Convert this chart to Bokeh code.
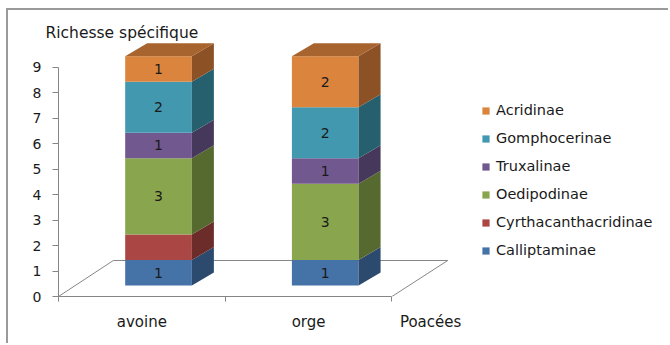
from bokeh.plotting import figure
from bokeh.models import (Range1d, FixedTicker, Legend, LegendItem,
                          ColumnDataSource, LinearAxis)
from bokeh.core.properties import value
from bokeh.embed import file_html
from bokeh.resources import INLINE

# ---------------- data ----------------
categories = ["avoine", "orge"]
series = ["Calliptaminae", "Cyrthacanthacridinae", "Oedipodinae",
          "Truxalinae", "Gomphocerinae", "Acridinae"]
calliptaminae = [1, 1]
cyrthacanthacridinae = [1, 0]
oedipodinae = [3, 3]
truxalinae = [1, 1]
gomphocerinae = [2, 2]
acridinae = [1, 2]
values = [calliptaminae, cyrthacanthacridinae, oedipodinae,
          truxalinae, gomphocerinae, acridinae]
# segment labels not displayed in the reference
hidden_labels = [("avoine", "Cyrthacanthacridinae")]
y_ticks = [0, 1, 2, 3, 4, 5, 6, 7, 8, 9]
y_title = "Richesse spécifique"
x_title = "Poacées"

# ---------------- styles ----------------
front_colors = ["#4572A7", "#AA4643", "#89A54E", "#71588F", "#4198AF", "#DB843D"]
side_colors = ["#2C4A6E", "#6B2C2A", "#566A30", "#46385A", "#26606E", "#8C5226"]
top_colors = ["#36598A", "#893836", "#6E853D", "#5A4672", "#347A8C", "#A8642E"]
FONT = "DejaVu Sans"
TXT = "#1a1a1a"
GRID = "#868686"

# 3D geometry (data units)
X0, W = 0.40, 0.40       # front face offset / width inside a category slot
DX, DY = 0.132, 0.51     # depth offset of the side/top faces
LIFT = 0.43              # front face lifted above floor front edge
FLOOR_BACK_Y = 1.413
FLOOR_BACK_L, FLOOR_BACK_R = 0.329, 2.335
X_TITLE_POS = 2.232

p = figure(width=662, height=335, output_backend="svg", toolbar_location=None,
           x_range=Range1d(0, 3.671), y_range=Range1d(0, 9.969),
           min_border_left=50, min_border_bottom=49, min_border_top=32,
           min_border_right=0, x_axis_type=None, y_axis_type=None)
p.styles = {"margin-left": "6px", "margin-top": "8px",
            "border-left": "2px solid #9a9a9a",
            "border-top": "2px solid #9a9a9a"}
p.outline_line_color = None
p.grid.visible = False
p.background_fill_color = "white"
p.border_fill_color = "white"

# title
p.title.text = y_title
p.title.align = "left"
p.title.offset = -13
p.title.standoff = 2
p.title.text_font = FONT
p.title.text_font_size = "15.5px"
p.title.text_font_style = "normal"
p.title.text_color = TXT

# axes
yax = LinearAxis(ticker=FixedTicker(ticks=y_ticks, minor_ticks=[]), bounds=(0, 9))
yax.axis_line_color = GRID
yax.major_tick_line_color = GRID
yax.major_tick_out = 6
yax.major_tick_in = 0
yax.minor_tick_line_color = None
yax.major_label_text_font = FONT
yax.major_label_text_font_size = "14px"
yax.major_label_text_color = TXT
yax.major_label_standoff = 11
p.add_layout(yax, "left")

xax = LinearAxis(ticker=FixedTicker(ticks=[0.5, 1.5, X_TITLE_POS],
                                    minor_ticks=[0, 1, 2]),
                 bounds=(0, 2))
xax.axis_line_color = GRID
xax.major_tick_line_color = None
xax.major_tick_out = 0
xax.major_tick_in = 0
xax.minor_tick_line_color = GRID
xax.minor_tick_out = 5
xax.minor_tick_in = 0
xax.major_label_overrides = {0.5: categories[0], 1.5: categories[1],
                             X_TITLE_POS: x_title}
xax.major_label_text_font = FONT
xax.major_label_text_font_size = "15px"
xax.major_label_text_color = TXT
xax.major_label_standoff = 11
p.add_layout(xax, "below")

# floor outline
p.line([0, FLOOR_BACK_L, FLOOR_BACK_R, 2], [0, FLOOR_BACK_Y, FLOOR_BACK_Y, 0],
       line_color=GRID, line_width=1)

# bars
legend_items = []
lab_x, lab_y, lab_t = [], [], []
for si, name in enumerate(series):
    left, right, bottom, top = [], [], [], []
    sxs, sys_ = [], []
    for ci, cat in enumerate(categories):
        base = sum(values[k][ci] for k in range(si))
        v = values[si][ci]
        if v <= 0:
            continue
        x0 = ci + X0
        x1 = x0 + W
        y0 = base + LIFT
        y1 = base + v + LIFT
        left.append(x0); right.append(x1); bottom.append(y0); top.append(y1)
        sxs.append([x1, x1 + DX, x1 + DX, x1])
        sys_.append([y0, y0 + DY, y1 + DY, y1])
        if (cat, name) not in hidden_labels:
            lab_x.append((x0 + x1) / 2)
            lab_y.append((y0 + y1) / 2)
            lab_t.append(str(v))
    r = p.quad(left=left, right=right, bottom=bottom, top=top,
               fill_color=front_colors[si], line_color=None)
    p.patches(sxs, sys_, fill_color=side_colors[si], line_color=None)
    legend_items.append(LegendItem(label=name, renderers=[r]))

# top faces of the stacks
txs, tys, top_fill = [], [], []
for ci, cat in enumerate(categories):
    total = sum(values[k][ci] for k in range(len(series)))
    x0 = ci + X0
    x1 = x0 + W
    y1 = total + LIFT
    txs.append([x0, x0 + DX, x1 + DX, x1])
    tys.append([y1, y1 + DY, y1 + DY, y1])
    k = max(i for i in range(len(series)) if values[i][ci] > 0)
    top_fill.append(top_colors[k])
p.patches(txs, tys, fill_color=top_fill, line_color=None)

src = ColumnDataSource(dict(x=lab_x, y=lab_y, t=lab_t))
p.text(x="x", y="y", text="t", source=src, text_align="center",
       text_baseline="middle", text_font=value(FONT), text_font_size="14px",
       text_color=TXT)

# legend (top to bottom: reverse stacking order)
legend = Legend(items=list(reversed(legend_items)), location=(423, 36),
                orientation="vertical", glyph_width=9, glyph_height=9,
                label_height=20, spacing=8, padding=0, margin=0,
                label_standoff=6, label_text_font=FONT,
                label_text_font_size="14.5px", label_text_color=TXT,
                border_line_color=None, background_fill_alpha=0)
p.add_layout(legend, "center")

open("out.html", "w").write(file_html(p, INLINE))
